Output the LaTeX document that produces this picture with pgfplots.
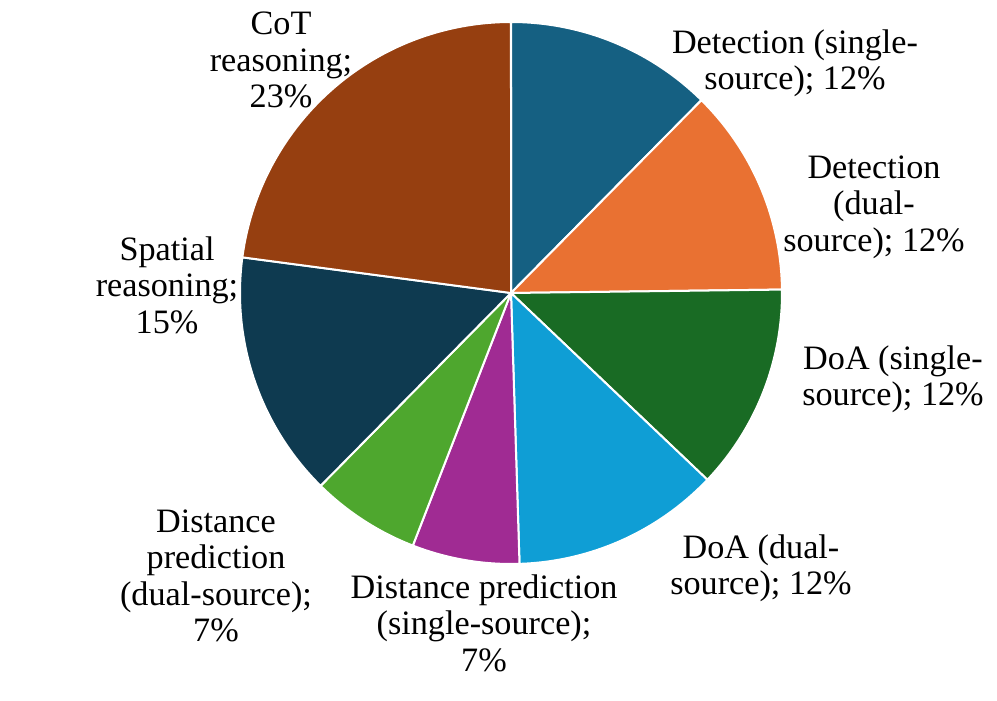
\documentclass[border=0pt]{standalone}
\usepackage{pgfplots}
\pgfplotsset{compat=1.18}
\usepackage{pgfplotstable}
\usepackage{fontspec}
\setmainfont{Liberation Serif}
\definecolor{c0}{HTML}{156082}
\definecolor{c1}{HTML}{E97132}
\definecolor{c2}{HTML}{196B24}
\definecolor{c3}{HTML}{0F9ED5}
\definecolor{c4}{HTML}{A02B93}
\definecolor{c5}{HTML}{4EA72E}
\definecolor{c6}{HTML}{0E3A50}
\definecolor{c7}{HTML}{963F10}
% shares in percent, clockwise from 12 o'clock
\pgfplotstableread{
share
12.4
12.4
12.3
12.4
6.4
6.5
14.7
22.9
}\piedata
\tikzset{lbl/.style={font=\fontsize{17.1}{18.2}\selectfont, align=center, text=black, inner sep=0pt}}
\begin{document}
\begin{tikzpicture}
\begin{axis}[
  hide axis, scale only axis,
  width=498.5pt, height=350.5pt,
  xmin=0, xmax=997, ymin=0, ymax=701,
  clip=false,
]
\addplot[draw=none, forget plot] coordinates {(0,0) (997,701)};
\gdef\cum{0}
\pgfplotsforeachungrouped \i in {0,...,7}{%
  \pgfplotstablegetelem{\i}{share}\of\piedata
  \let\v\pgfplotsretval
  \pgfmathsetmacro{\a}{\cum}%
  \pgfmathsetmacro{\b}{\cum+\v}%
  \xdef\cum{\b}%
  \edef\tmp{\noexpand\addplot[fill=c\i, draw=white, line width=1pt, domain=\a:\b, samples=90, variable=\noexpand\t]
    ({511+271*cos(90-3.6*\noexpand\t)},{408+271*sin(90-3.6*\noexpand\t)}) -- (axis cs:511,408) -- cycle;}%
  \tmp
}
\node[lbl] at (axis cs:795,638) {Detection (single-\\source); 12\%};
\node[lbl] at (axis cs:874,494) {Detection\\(dual-\\source); 12\%};
\node[lbl] at (axis cs:893,322) {DoA (single-\\source); 12\%};
\node[lbl] at (axis cs:761,133) {DoA (dual-\\source); 12\%};
\node[lbl] at (axis cs:484,78) {Distance prediction\\(single-source);\\7\%};
\node[lbl] at (axis cs:216,125) {Distance\\prediction\\(dual-source);\\7\%};
\node[lbl] at (axis cs:167,416) {Spatial\\reasoning;\\15\%};
\node[lbl] at (axis cs:281,641) {CoT\\reasoning;\\23\%};
\end{axis}
\end{tikzpicture}
\end{document}
